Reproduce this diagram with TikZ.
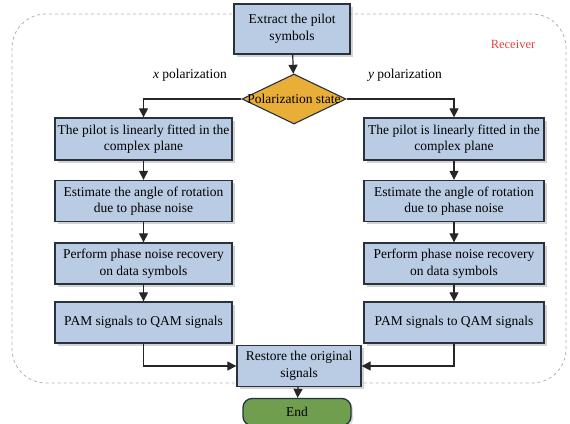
\documentclass[tikz,border=0pt]{standalone}
\usepackage{fontspec}
\setmainfont{Liberation Serif}
\usetikzlibrary{shapes.geometric,arrows.meta,shadows}
\definecolor{boxfill}{HTML}{B9CCE3}
\definecolor{boxline}{HTML}{27323E}
\definecolor{diafill}{HTML}{E9AE38}
\definecolor{endfill}{HTML}{6F9E4F}
\definecolor{framegray}{HTML}{B0B0B0}
\definecolor{recred}{HTML}{E8413A}
\tikzset{
  procbox/.style={draw=boxline, line width=1.3pt, fill=boxfill, align=center,
    inner sep=1pt, font=\fontsize{13.5}{16.5}\selectfont,
    drop shadow={shadow xshift=2.5pt, shadow yshift=-2.5pt, opacity=0.35}},
  flowarrow/.style={draw=black!85, line width=1.2pt, -{Triangle[length=9pt,width=9pt]}},
  lbl/.style={font=\fontsize{13.5}{16.5}\selectfont, inner sep=0pt},
}
\begin{document}
\begin{tikzpicture}[x=1pt,y=-1pt]
\useasboundingbox (0,0) rectangle (570,423);
% dashed frame
\draw[framegray, dashed, line width=0.8pt, rounded corners=34pt] (12,14) rectangle (566,383);
\node[font=\fontsize{12.5}{15}\selectfont, text=recred] (rec) at (513,44) {Receiver};
% top
\node[procbox, minimum width=116pt, minimum height=50pt] (extract) at (292,29) {Extract the pilot\\symbols};
\node[diamond, draw=boxline, line width=1.1pt, fill=diafill, minimum width=104pt, minimum height=50pt, inner sep=0pt] (pol) at (294,99) {};
\node[lbl] (poltext) at (pol) {Polarization state};
\node[lbl] (xpol) at (190,75) {\textit{x} polarization};
\node[lbl] (ypol) at (405,75) {\textit{y} polarization};
% left column
\node[procbox, minimum width=177pt, minimum height=42pt] (L1) at (143.5,139) {The pilot is linearly fitted in the\\complex plane};
\node[procbox, minimum width=177pt, minimum height=41pt] (L2) at (143.5,201) {Estimate the angle of rotation\\due to phase noise};
\node[procbox, minimum width=177pt, minimum height=41pt] (L3) at (143.5,263.5) {Perform phase noise recovery\\on data symbols};
\node[procbox, minimum width=177pt, minimum height=41pt] (L4) at (143.5,322.5) {PAM signals to QAM signals};
% right column
\node[procbox, minimum width=180pt, minimum height=42pt] (R1) at (454,139) {The pilot is linearly fitted in the\\complex plane};
\node[procbox, minimum width=180pt, minimum height=41pt] (R2) at (454,201) {Estimate the angle of rotation\\due to phase noise};
\node[procbox, minimum width=180pt, minimum height=41pt] (R3) at (454,263.5) {Perform phase noise recovery\\on data symbols};
\node[procbox, minimum width=180pt, minimum height=41pt] (R4) at (454,322.5) {PAM signals to QAM signals};
% bottom
\node[procbox, minimum width=124pt, minimum height=41pt] (restore) at (299,366) {Restore the original\\signals};
\node[draw=boxline, line width=1.3pt, fill=endfill, rounded corners=9pt, minimum width=108pt, minimum height=27pt, font=\fontsize{13.5}{16.5}\selectfont,
  drop shadow={shadow xshift=2pt, shadow yshift=-2pt, opacity=0.3}] (end) at (297,412) {End};
% connectors
\draw[flowarrow] (extract) -- (pol);
\draw[flowarrow] (pol.west) -| (L1.north);
\draw[flowarrow] (pol.east) -| (R1.north);
\draw[flowarrow] (L1) -- (L2);
\draw[flowarrow] (L2) -- (L3);
\draw[flowarrow] (L3) -- (L4);
\draw[flowarrow] (R1) -- (R2);
\draw[flowarrow] (R2) -- (R3);
\draw[flowarrow] (R3) -- (R4);
\draw[flowarrow] (L4.south) |- (restore.west);
\draw[flowarrow] (R4.south) |- (restore.east);
\draw[flowarrow] (restore) -- (end);
\end{tikzpicture}
\end{document}
